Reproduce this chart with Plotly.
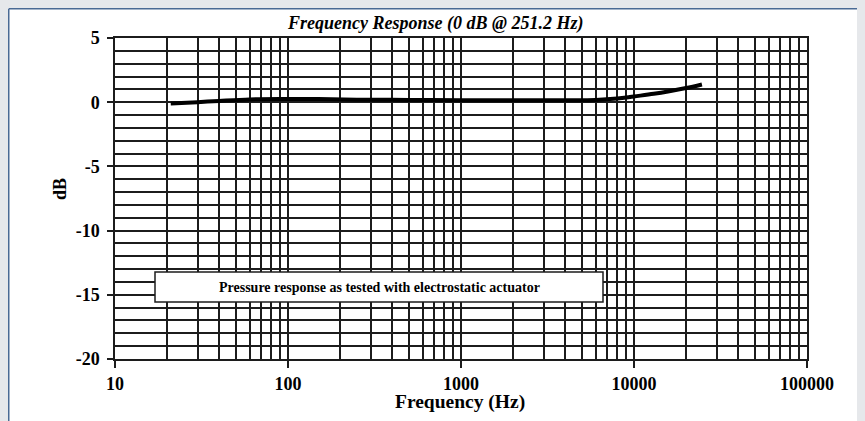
import plotly.graph_objects as go

# Data
freq_hz = [21, 30, 40, 60, 100, 150, 250, 500, 1000, 2000, 4000, 6000, 8000, 10000, 13000, 16000, 20000, 24700]
level_db = [-0.1, 0.0, 0.1, 0.22, 0.25, 0.25, 0.2, 0.18, 0.15, 0.15, 0.15, 0.17, 0.28, 0.45, 0.65, 0.85, 1.1, 1.38]

x_major = [10, 100, 1000, 10000, 100000]
x_major_text = ["10", "100", "1000", "10000", "100000"]
x_minor = [m * d for d in [10, 100, 1000, 10000] for m in range(2, 10)]
y_major = [-20, -15, -10, -5, 0, 5]
y_major_text = ["-20", "-15", "-10", "-5", "0", "5"]
y_minor = list(range(-20, 6))

title_text = "Frequency Response (0 dB @ 251.2 Hz)"
note_text = "Pressure response as tested with electrostatic actuator"

FONT = "Liberation Serif"
GRID = "#1c1c1c"
OFF = 8  # page body margin

W, H = 865, 421
# plot area in page pixels: x 115..807, y 38..359
L = 115 - OFF
T = 38 - OFF
R = W - (807 - OFF)
B = H - (359 - OFF)
pw, ph = W - L - R, H - T - B


def px_x(p):
    return (p - OFF - L) / pw


def px_y(p):
    return (H - B - (p - OFF)) / ph


fig = go.Figure()
fig.add_trace(go.Scatter(
    x=freq_hz, y=level_db, mode="lines",
    line=dict(color="black", width=4, shape="spline"),
    showlegend=False, hoverinfo="skip",
))

fig.update_layout(
    width=W, height=H,
    margin=dict(l=L, r=R, t=T, b=B),
    paper_bgcolor="white",
    plot_bgcolor="white",
    font=dict(family=FONT, color="black"),
    showlegend=False,
    xaxis=dict(
        type="log", range=[1, 5],
        tickmode="array", tickvals=x_major, ticktext=x_major_text,
        ticks="outside", ticklen=7, tickwidth=1.5, tickcolor=GRID,
        tickfont=dict(family=FONT, size=18, weight="bold", color="black"),
        ticklabelstandoff=1,
        showgrid=True, gridcolor=GRID, gridwidth=1.5,
        minor=dict(tickmode="array", tickvals=x_minor, showgrid=True,
                   gridcolor=GRID, gridwidth=1.5, ticks=""),
        showline=True, linecolor=GRID, linewidth=1.5, mirror=True,
        zeroline=False, fixedrange=True,
    ),
    yaxis=dict(
        range=[-20, 5],
        tickmode="array", tickvals=y_major, ticktext=y_major_text,
        ticks="outside", ticklen=6, tickwidth=1.5, tickcolor=GRID,
        tickfont=dict(family=FONT, size=18, weight="bold", color="black"),
        ticklabelstandoff=4,
        showgrid=True, gridcolor=GRID, gridwidth=1.5,
        minor=dict(tickmode="array", tickvals=y_minor, showgrid=True,
                   gridcolor=GRID, gridwidth=1.5, ticks=""),
        showline=True, linecolor=GRID, linewidth=1.5, mirror=True,
        zeroline=False, fixedrange=True,
    ),
    shapes=[
        # blue border of the white panel (top and left)
        dict(type="line", xref="paper", yref="paper", layer="below",
             x0=px_x(8.75), x1=px_x(880), y0=px_y(8.75), y1=px_y(8.75),
             line=dict(color="#4a6a94", width=1.5)),
        dict(type="line", xref="paper", yref="paper", layer="below",
             x0=px_x(8.75), x1=px_x(8.75), y0=px_y(8.75), y1=px_y(440),
             line=dict(color="#4a6a94", width=1.5)),
        # note box
        dict(type="rect", xref="paper", yref="paper", layer="above",
             x0=px_x(155), x1=px_x(603), y0=px_y(302), y1=px_y(272),
             fillcolor="white", line=dict(color="#1c1c1c", width=1.5)),
    ],
    annotations=[
        dict(text="<b><i>" + title_text + "</i></b>", xref="paper", yref="paper",
             x=px_x(435), y=px_y(24), showarrow=False,
             font=dict(family=FONT, size=18, color="black"),
             xanchor="center", yanchor="middle"),
        dict(text="<b>" + note_text + "</b>", xref="paper", yref="paper",
             x=px_x(379), y=px_y(287), showarrow=False,
             font=dict(family=FONT, size=14, color="black"),
             xanchor="center", yanchor="middle"),
        dict(text="<b>Frequency (Hz)</b>", xref="paper", yref="paper",
             x=px_x(460), y=px_y(402), showarrow=False,
             font=dict(family=FONT, size=19.5, color="black"),
             xanchor="center", yanchor="middle"),
        dict(text="<b>dB</b>", xref="paper", yref="paper",
             x=px_x(60), y=px_y(189), showarrow=False, textangle=-90,
             font=dict(family=FONT, size=18, color="black"),
             xanchor="center", yanchor="middle"),
    ],
)

fig.write_html(
    "out.html",
    post_script="document.body.style.backgroundColor='#e6e8eb';",
)
